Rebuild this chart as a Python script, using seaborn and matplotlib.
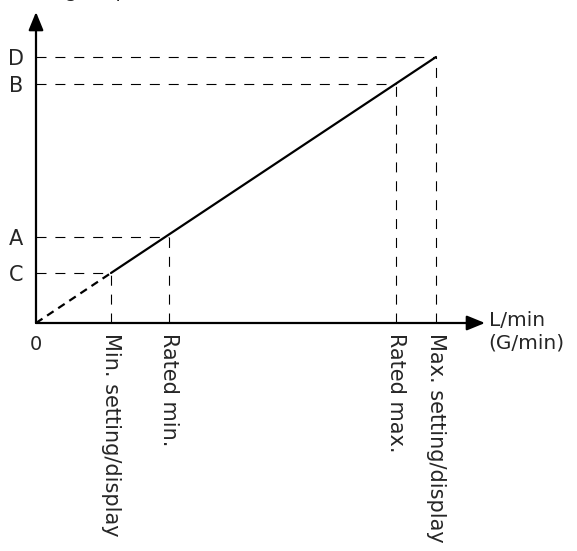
import pandas as pd
import seaborn as sns
from matplotlib import pyplot as plt

# reference points: flow (x) and output signal (y), in chart units
point_names = ["Min. setting/display", "Rated min.", "Rated max.", "Max. setting/display"]
flow = [75, 133, 360, 400]
signal = [50, 86, 239, 266]
y_names = ["C", "A", "B", "D"]

x_end = 449
y_end = 311

sns.set_style("white")
plt.rcParams["font.family"] = ["DejaVu Sans"]

fig = plt.figure(figsize=(5.77, 5.51), dpi=100)
ax = fig.add_axes([36 / 577, 228 / 551, x_end / 577, y_end / 551])
ax.set_xlim(0, x_end)
ax.set_ylim(0, y_end)

# dashed guide lines from the axes to each point
for x, y in zip(flow, signal):
    ax.plot([0, x], [y, y], color="black", lw=0.8, dashes=(9, 8))
    ax.plot([x, x], [0, y], color="black", lw=0.8, dashes=(9, 8))

line_df = pd.DataFrame({"flow": [flow[0], flow[-1]], "signal": [signal[0], signal[-1]]})
low_df = pd.DataFrame({"flow": [0, flow[0]], "signal": [0, signal[0]]})
sns.lineplot(data=line_df, x="flow", y="signal", color="black", lw=1.6, ax=ax)
sns.lineplot(data=low_df, x="flow", y="signal", color="black", lw=1.6, ax=ax,
             linestyle=(0, (3.5, 2.5)))

for s in ax.spines.values():
    s.set_visible(False)
arrow = dict(arrowstyle="-|>,head_length=1.1,head_width=0.45",
             color="black", lw=1.6, shrinkA=0, shrinkB=0)
ax.annotate("", xy=(x_end, 0), xytext=(0, 0), annotation_clip=False, arrowprops=arrow)
ax.annotate("", xy=(0, y_end), xytext=(0, 0), annotation_clip=False, arrowprops=arrow)

ax.set_xticks(flow)
ax.set_xticklabels(point_names, rotation=-90, va="top", ha="center")
ax.set_yticks(signal)
ax.set_yticklabels(y_names)
ax.tick_params(axis="x", direction="inout", length=10, width=0.8, pad=2, labelsize=15)
ax.tick_params(axis="y", direction="inout", length=6, width=0.8, pad=6, labelsize=15)
ax.set_xlabel("")
ax.set_ylabel("")

ax.text(0, -12, "0", ha="center", va="top", fontsize=14)
ax.text(x_end + 4, 2, "L/min", ha="left", va="center", fontsize=14.5)
ax.text(x_end + 3, -20, "(G/min)", ha="left", va="center", fontsize=14.5)
# axis title, cut off at the top edge as in the source image
fig.text(10 / 577, 1 + 3 / 551, "Analog output (mA)", ha="left", va="baseline", fontsize=14)

fig.savefig("out.png", dpi=100)
